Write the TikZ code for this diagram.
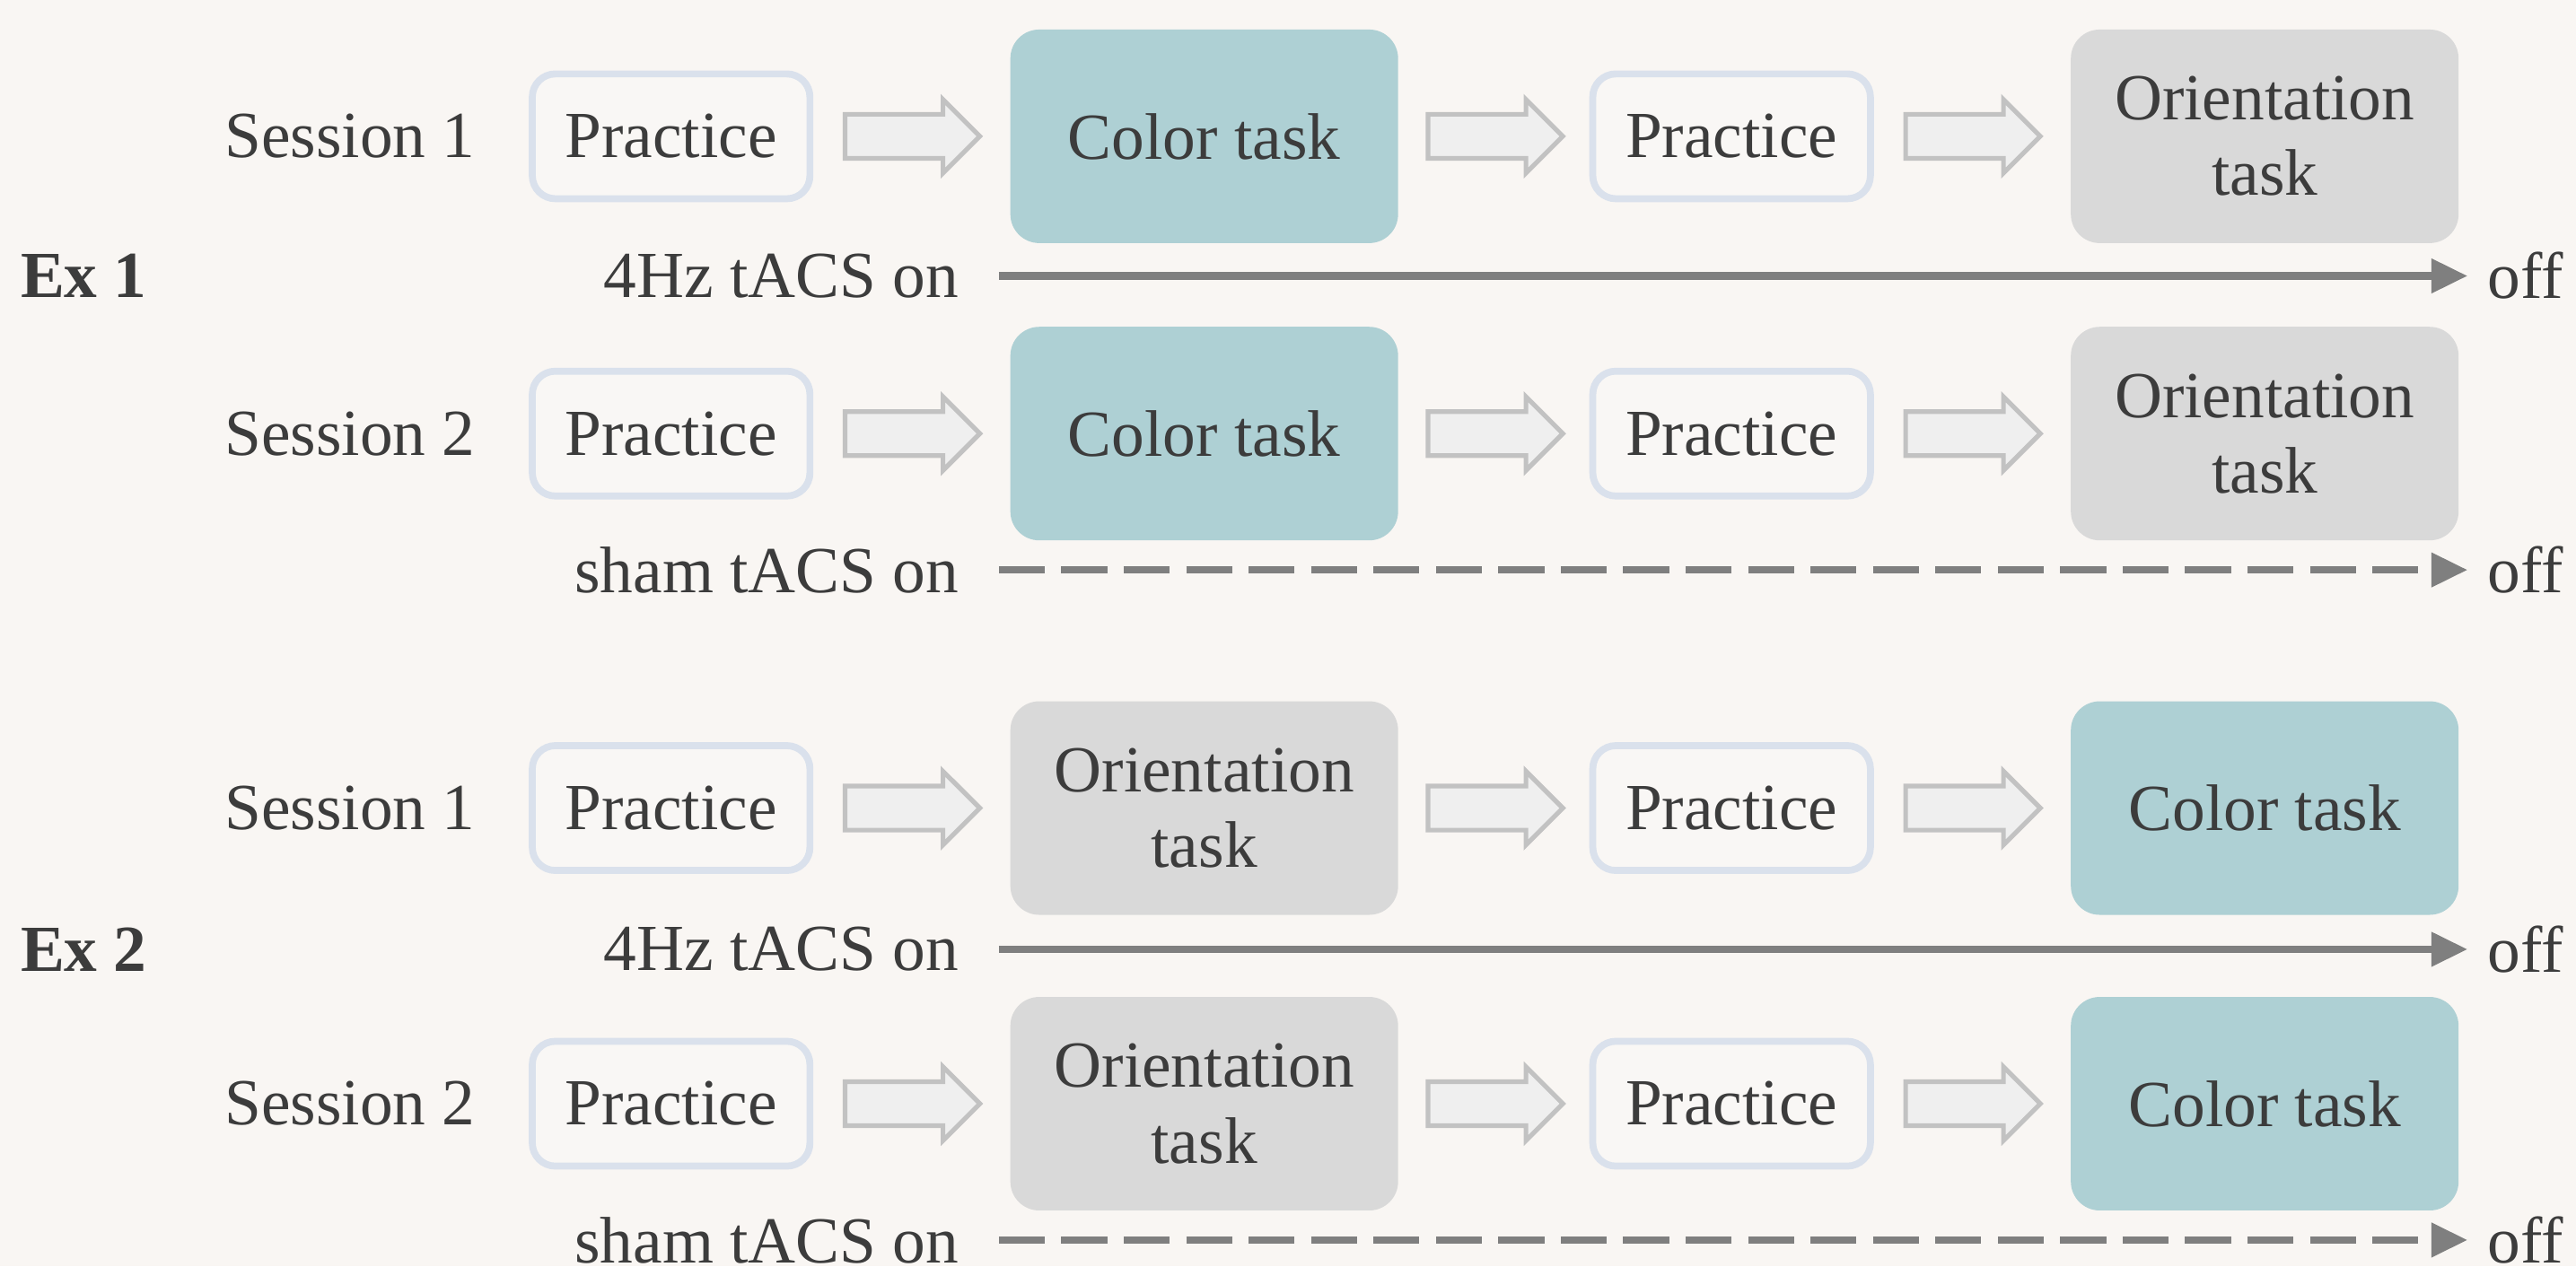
\documentclass[tikz,border=0pt]{standalone}
\usepackage{fontspec}
\setmainfont{Liberation Serif}
\usetikzlibrary{arrows.meta,shapes.arrows,positioning,calc}
\definecolor{bgcol}{HTML}{F9F6F3}
\definecolor{txtcol}{HTML}{3C3C3C}
\definecolor{tealbox}{HTML}{AED0D4}
\definecolor{graybox}{HTML}{D9D9D9}
\definecolor{pracline}{HTML}{DAE1EC}
\definecolor{pracfill}{HTML}{F9F7F5}
\definecolor{arrline}{HTML}{C2C2C2}
\definecolor{arrfill}{HTML}{EFEFEF}
\definecolor{stimcol}{HTML}{7F7F7F}
\tikzset{
every node/.style={text=txtcol,font=\fontsize{11.4}{13.1}\selectfont},
practice/.style= {rectangle, rounded corners=4pt, draw=pracline, line width=1.2pt, fill=pracfill, minimum width=1.69cm, minimum height=0.76cm, align=center},
colortask/.style= {rectangle, rounded corners=5pt, fill=tealbox, minimum width=2.36cm, minimum height=1.30cm, align=center},
orienttask/.style= {rectangle, rounded corners=5pt, fill=graybox, minimum width=2.36cm, minimum height=1.30cm, align=center},
hollow/.style= {single arrow, draw=arrline, fill=arrfill, line width=0.8pt, minimum height=0.82cm, minimum width=0.44cm, single arrow head extend=0.09cm, inner xsep=0pt, inner ysep=0.12cm, xshift=-0.06cm},
stim/.style= {-{Triangle[length=0.22cm,width=0.2cm]}, line width=1.3pt, draw=stimcol, shorten <=0.12cm}
}

\begin{document}
\begin{tikzpicture}

\fill[bgcol] (0,0) rectangle (15.68,-7.71);
\useasboundingbox (0,0) rectangle (15.68,-7.71);

% one row of boxes for every session
\foreach \r/\y/\sess/\styA/\txtA/\styB/\txtB in {
  1/-0.83/1/colortask/{Color task}/orienttask/{Orientation\\task},
  2/-2.64/2/colortask/{Color task}/orienttask/{Orientation\\task},
  3/-4.92/1/orienttask/{Orientation\\task}/colortask/{Color task},
  4/-6.72/2/orienttask/{Orientation\\task}/colortask/{Color task}}
{
  \node (s\r) at (2.13,\y) {Session \sess};
  \node[practice] (pa\r) at (4.085,\y) {Practice};
  \node[\styA] (ta\r) at (7.33,\y) {\txtA};
  \node[practice] (pb\r) at (10.54,\y) {Practice};
  \node[\styB] (tb\r) at (13.785,\y) {\txtB};

  \node[hollow] (ha\r) at ($(pa\r.east)!0.5!(ta\r.west)$) {};
  \node[hollow] (hb\r) at ($(ta\r.east)!0.5!(pb\r.west)$) {};
  \node[hollow] (hc\r) at ($(pb\r.east)!0.5!(tb\r.west)$) {};
}

% the stimulation lines below each session
\foreach \r/\y/\what in {1/-1.68/4Hz, 2/-3.47/sham, 3/-5.78/4Hz, 4/-7.55/sham}
{
  \node[anchor=east] (on\r) at (5.96,\y) {\what{} tACS on};
  \node[anchor=west] (off\r) at (15.02,\y) {off};
}
\draw[stim] (on1.east) -- (off1.west);
\draw[stim] (on3.east) -- (off3.west);
\draw[stim, dash pattern=on 0.28cm off 0.1cm] (on2.east) -- (off2.west);
\draw[stim, dash pattern=on 0.28cm off 0.1cm] (on4.east) -- (off4.west);

% experiment labels
\node (ex1) at (0.51,-1.68) {\textbf{Ex 1}};
\node (ex2) at (0.51,-5.78) {\textbf{Ex 2}};

\end{tikzpicture}
\end{document}
